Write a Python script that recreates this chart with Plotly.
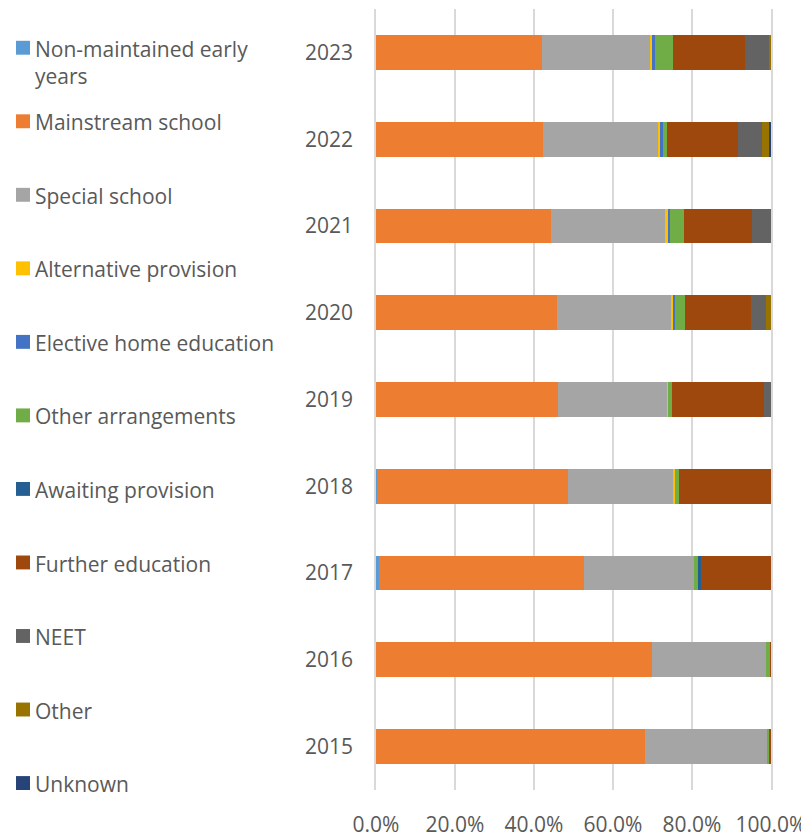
import plotly.graph_objects as go

years = ["2015", "2016", "2017", "2018", "2019", "2020", "2021", "2022", "2023"]

series_names = [
    "Non-maintained early years",
    "Mainstream school",
    "Special school",
    "Alternative provision",
    "Elective home education",
    "Other arrangements",
    "Awaiting provision",
    "Further education",
    "NEET",
    "Other",
    "Unknown",
]

# values in percent, per year 2015..2023
non_maintained = [0, 0, 0.7, 0.2, 0, 0, 0, 0, 0]
mainstream = [68.2, 69.9, 51.9, 48.5, 46.0, 45.9, 44.4, 42.2, 41.9]
special = [30.9, 28.8, 28.0, 26.7, 27.8, 28.8, 29.0, 29.2, 27.7]
alternative = [0, 0, 0, 0.3, 0.1, 0.5, 0.4, 0.6, 0.3]
elective = [0, 0, 0, 0, 0, 0.6, 0.7, 0.7, 0.75]
other_arrangements = [0.5, 1.1, 0.8, 1.0, 1.1, 2.5, 3.4, 0.9, 4.6]
awaiting = [0, 0, 0.8, 0, 0, 0, 0, 0, 0]
further = [0.4, 0.2, 17.8, 23.3, 23.1, 16.7, 17.2, 18.1, 18.2]
neet = [0, 0, 0, 0, 1.9, 3.7, 4.9, 6.0, 6.1]
other = [0, 0, 0, 0, 0, 1.3, 0, 1.8, 0.4]
unknown = [0, 0, 0, 0, 0, 0, 0, 0.5, 0]

series_values = [non_maintained, mainstream, special, alternative, elective,
                 other_arrangements, awaiting, further, neet, other, unknown]

colors = ["#5B9BD5", "#ED7D31", "#A5A5A5", "#FFC000", "#4472C4", "#70AD47",
          "#255E91", "#9E480E", "#636363", "#997300", "#264478"]

legend_labels = [
    "Non-maintained early<br>years",
    "Mainstream school",
    "Special school",
    "Alternative provision",
    "Elective home education",
    "Other arrangements",
    "Awaiting provision",
    "Further education",
    "NEET",
    "Other",
    "Unknown",
]

OFF = 8  # page body margin
W, H = 809 - OFF, 839 - OFF
ML, MT = 376 - OFF, 9 - OFF
PW, PH = 395, 786
MR = W - ML - PW
MB = H - MT - PH
FONT = "Open Sans"
TXT = "#595959"
GRID = "#d9d9d9"

fig = go.Figure()
for name, vals, col in zip(series_names, series_values, colors):
    fig.add_trace(go.Bar(
        y=years, x=[v / 100 for v in vals], name=name, orientation="h",
        marker=dict(color=col, line=dict(width=0)), showlegend=False,
    ))


def px_x(px):
    return (px - OFF - ML) / PW


def px_y(py):
    return 1 - (py - OFF - MT) / PH


shapes = []
annotations = []
for i, (lab, col) in enumerate(zip(legend_labels, colors)):
    cy = 48 + 74 * i
    shapes.append(dict(type="rect", xref="paper", yref="paper",
                       x0=px_x(16), x1=px_x(30), y0=px_y(cy + 7), y1=px_y(cy - 7),
                       fillcolor=col, line=dict(width=0)))
    annotations.append(dict(
        xref="paper", yref="paper", x=px_x(33), y=px_y(cy - 15),
        xanchor="left", yanchor="top", align="left", showarrow=False,
        text=lab, font=dict(family=FONT, size=21, color=TXT),
    ))

fig.update_layout(
    width=W, height=H,
    margin=dict(l=ML, r=MR, t=MT, b=MB),
    barmode="stack", bargap=0.6,
    plot_bgcolor="white", paper_bgcolor="white",
    font=dict(family=FONT, size=21, color=TXT),
    shapes=shapes, annotations=annotations,
    xaxis=dict(range=[0, 1], tickformat=".1%", dtick=0.2, tick0=0,
               showgrid=True, gridcolor=GRID, gridwidth=1.5,
               zeroline=False, showline=False, ticks="",
               ticklabelstandoff=20,
               tickfont=dict(family=FONT, size=21, color=TXT)),
    yaxis=dict(categoryorder="array", categoryarray=years,
               showgrid=False, zeroline=False,
               showline=True, mirror=True, linecolor=GRID, linewidth=1.5,
               ticks="", ticklabelstandoff=17,
               tickfont=dict(family=FONT, size=21, color=TXT)),
)

fig.write_html("out.html")
